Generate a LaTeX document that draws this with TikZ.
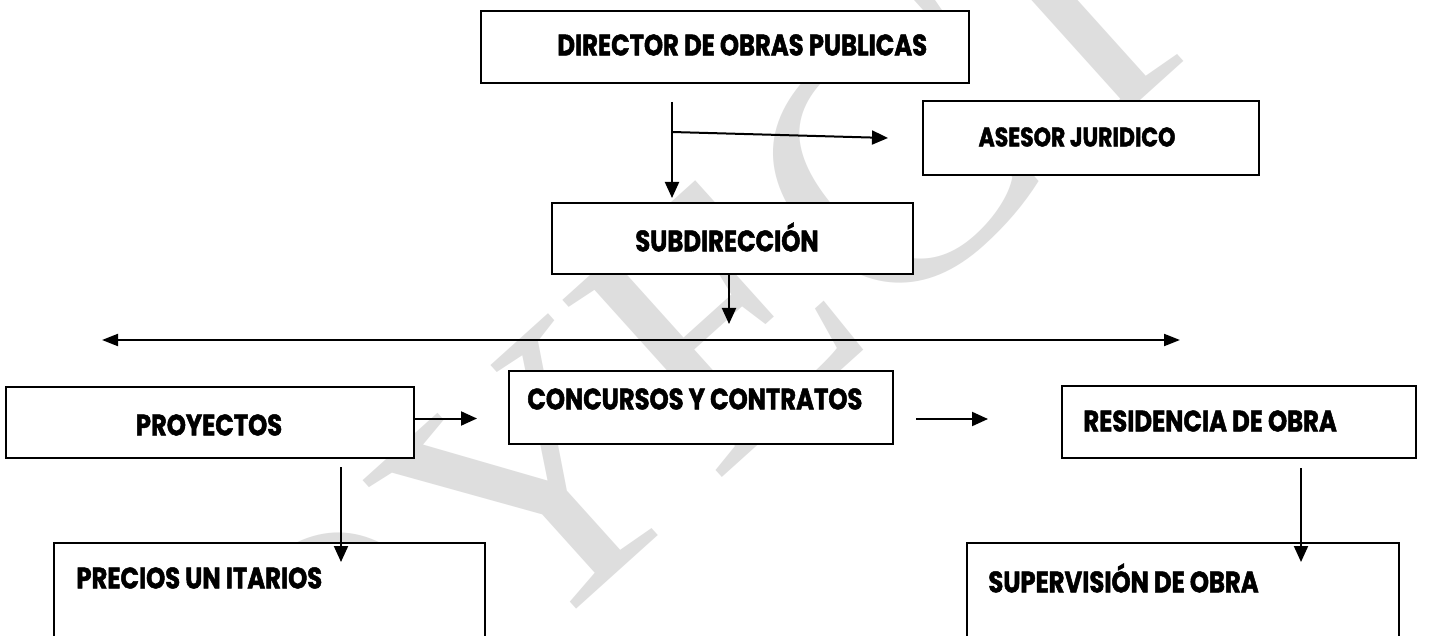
\documentclass[tikz,border=0pt]{standalone}
\usepackage{fontspec}
\setmainfont{Poppins}[FakeStretch=0.82, BoldFeatures={FakeBold=1.6}]
\newfontfamily\wmfont{Liberation Serif}
\usetikzlibrary{arrows.meta,calc}
\definecolor{wm}{HTML}{DEDEDE}
\tikzset{
  box/.style={draw=black, line width=1pt, fill=white, anchor=north west, inner sep=0pt},
  lbl/.style={font=\fontsize{14.8}{16}\selectfont\bfseries, inner sep=0pt},
  conn/.style={line width=1pt, -{Triangle[length=8pt,width=7pt]}},
  both/.style={line width=1pt, {Triangle[length=8pt,width=6pt]}-{Triangle[length=8pt,width=6pt]}}
}
\begin{document}
\begin{tikzpicture}[x=0.5pt,y=-0.5pt]
\clip (0,0) rectangle (1441,636);
\fill[white] (0,0) rectangle (1441,636);
% watermark
\node[rotate=42, text=wm, inner sep=0pt, font=\wmfont\fontsize{182}{182}\selectfont] (wmark) at (625,405) {PROYECTO};
% boxes
\node[box, minimum width=244pt, minimum height=36pt] (dir) at (480,10) {};
\node[box, minimum width=168pt, minimum height=37pt] (ase) at (922,100) {};
\node[box, minimum width=180.5pt, minimum height=35.5pt] (sub) at (551,202) {};
\node[box, minimum width=204pt, minimum height=35.5pt] (pro) at (5,386) {};
\node[box, minimum width=192pt, minimum height=36.5pt] (con) at (508,370) {};
\node[box, minimum width=177pt, minimum height=36pt] (res) at (1061,385) {};
\node[box, minimum width=216pt, minimum height=60pt] (sup) at (966,542) {};
\node[box, minimum width=215.5pt, minimum height=60pt] (pre) at (53,542) {};
% texts
\node[lbl, anchor=west] (tdir) at (557,45) {DIRECTOR DE OBRAS PUBLICAS};
\node[lbl, anchor=center, font=\fontsize{13.4}{15}\selectfont\bfseries] (tase) at (1077,137) {ASESOR JURIDICO};
\node[lbl, anchor=center] (tsub) at (727,237) {SUBDIRECCIÓN};
\node[lbl, anchor=center] (tpro) at (209,425) {PROYECTOS};
\node[lbl, anchor=west] (tcon) at (527,399) {CONCURSOS Y CONTRATOS};
\node[lbl, anchor=west] (tres) at (1083,421) {RESIDENCIA DE OBRA};
\node[lbl, anchor=west] (tsup) at (988,578) {SUPERVISIÓN DE OBRA};
\node[lbl, anchor=west] (tpre) at (76,578) {PRECIOS UN ITARIOS};
% connector coordinates
\coordinate (d0) at ($(dir.south west)+(192,18)$);
\coordinate (d1) at ($(sub.north west)+(121,-4)$);
\coordinate (b0) at ($(dir.south west)+(192,48)$);
\coordinate (b1) at ($(ase.west)+(-34,0)$);
\coordinate (hl) at (102,340);
\coordinate (hr) at (1180,340);
\coordinate (s1) at ($(sub.south west)+(178,49)$);
\coordinate (c0) at ($(con.west)+(-31,11)$);
\coordinate (r0) at ($(res.west)+(-73,-3)$);
\coordinate (r1) at ($(res.west)+(-145,-3)$);
\coordinate (p0) at ($(pro.south west)+(336,8)$);
\coordinate (p1) at ($(pre.north west)+(288,20)$);
\coordinate (q0) at ($(res.south west)+(240,9)$);
\coordinate (q1) at ($(sup.north west)+(335,20)$);
% connectors
\draw[conn] (d0) -- (d1);
\draw[conn] (b0) -- (b1);
\draw[conn] ($(sub.south west)+(178,0)$) -- (s1);
\draw[both] (hl) -- (hr);
\draw[conn] ($(pro.east)+(0,-4)$) -- (c0);
\draw[conn] (r1) -- (r0);
\draw[conn] (p0) -- (p1);
\draw[conn] (q0) -- (q1);
\end{tikzpicture}
\end{document}
